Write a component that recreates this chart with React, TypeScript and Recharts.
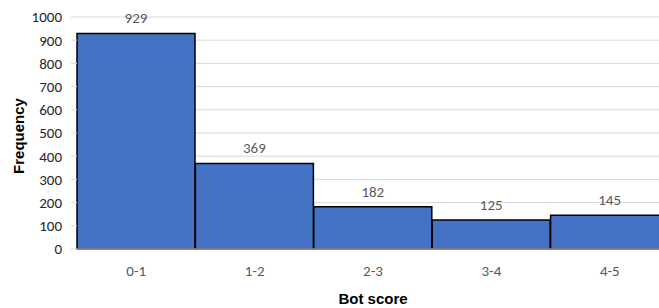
import { BarChart, Bar, XAxis, YAxis, CartesianGrid, LabelList } from "recharts";

const bins = ["0-1", "1-2", "2-3", "3-4", "4-5"];
const frequencies = [929, 369, 182, 125, 145];
const yTicks = [0, 100, 200, 300, 400, 500, 600, 700, 800, 900, 1000];

const data = bins.map((bin, i) => ({ bin, value: frequencies[i] }));

const font = "Calibri, Carlito, 'Liberation Sans', Arial, sans-serif";
const titleFont = "'Liberation Sans', Arial, sans-serif";

const App = () => {
  return (
    <div style={{ position: "absolute", left: 0, top: 0 }}>
      <BarChart
        width={680}
        height={308}
        data={data}
        margin={{ top: 17, right: 11, bottom: 0, left: 0 }}
        barCategoryGap={0}
      >
        <CartesianGrid vertical={false} stroke="#d9d9d9" />
        <XAxis
          dataKey="bin"
          height={59}
          tickLine={false}
          axisLine={{ stroke: "#d9d9d9" }}
          tickMargin={10}
          tick={{ fill: "#595959", fontSize: 15, fontFamily: font }}
          label={{
            value: "Bot score",
            position: "insideBottom",
            offset: 4,
            fill: "#000",
            fontSize: 15,
            fontWeight: "bold",
            fontFamily: titleFont,
          }}
        />
        <YAxis
          width={77}
          domain={[0, 1000]}
          ticks={yTicks}
          interval={0}
          axisLine={false}
          tickLine={{ stroke: "#d9d9d9" }}
          tickSize={6}
          tickMargin={9}
          tick={{ fill: "#262626", fontSize: 15, fontFamily: font }}
          label={{
            value: "Frequency",
            angle: -90,
            position: "insideLeft",
            offset: 19,
            dy: 3,
            style: { textAnchor: "middle" },
            fill: "#000",
            fontSize: 15,
            fontWeight: "bold",
            fontFamily: titleFont,
          }}
        />
        <Bar
          dataKey="value"
          fill="#4472c4"
          stroke="#000"
          strokeWidth={1.5}
          isAnimationActive={false}
        >
          <LabelList
            dataKey="value"
            position="top"
            offset={10}
            fill="#595959"
            fontSize={15}
            fontFamily={font}
          />
        </Bar>
      </BarChart>
    </div>
  );
};

export default App;
